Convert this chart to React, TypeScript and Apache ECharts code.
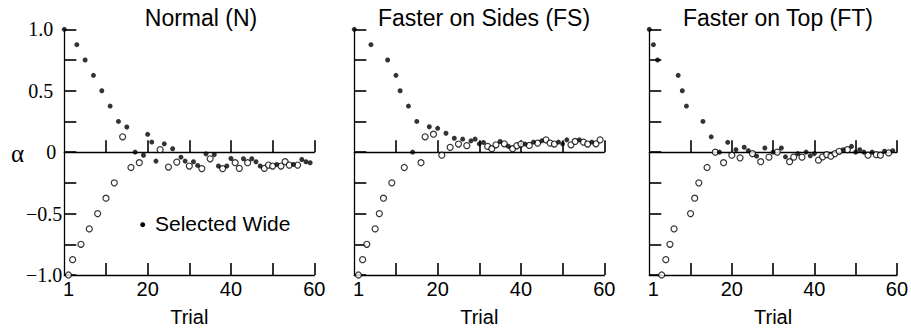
import React, { useEffect, useRef } from "react";
import * as echarts from "echarts";

// Trial index (0-based position on the axis) and alpha value
const normalWide: [number, number][] = [
  [0, 1.0], [3, 0.875], [5, 0.75], [7, 0.625], [9, 0.5], [11, 0.375], [13, 0.25], [15, 0.205],
  [17, 0.0], [19, -0.025], [20, 0.145], [21, 0.082], [22, -0.073], [24, 0.068], [26, 0.028],
  [28, -0.041], [29, -0.073], [31, -0.078], [32, -0.108], [34, -0.014], [36, -0.02], [37, -0.113],
  [39, -0.113], [40, -0.052], [43, -0.054], [45, -0.054], [46, -0.078], [47, -0.113], [51, -0.1],
  [55, -0.1], [57, -0.06], [58, -0.078], [59, -0.086],
];
const normalNarrow: [number, number][] = [
  [1, -1.0], [2, -0.875], [4, -0.75], [6, -0.625], [8, -0.5], [10, -0.375], [12, -0.25],
  [14, 0.125], [16, -0.125], [18, -0.086], [23, 0.02], [25, -0.121], [27, -0.081], [30, -0.113],
  [33, -0.134], [35, -0.054], [38, -0.134], [41, -0.086], [42, -0.132], [44, -0.086], [48, -0.132],
  [49, -0.105], [50, -0.113], [52, -0.113], [53, -0.078], [54, -0.105], [56, -0.105],
];

const sidesWide: [number, number][] = [
  [0, 1.0], [4, 0.875], [8, 0.75], [10, 0.625], [11, 0.5], [13, 0.375], [14, 0.0], [15, 0.25],
  [18, 0.207], [20, 0.194], [22, 0.154], [24, 0.113], [26, 0.106], [28, 0.092], [29, 0.106],
  [30, 0.068], [31, 0.079], [35, 0.087], [37, 0.047], [41, 0.066], [43, 0.082], [45, 0.092],
  [49, 0.082], [50, 0.068], [51, 0.1], [54, 0.1], [57, 0.082],
];
const sidesNarrow: [number, number][] = [
  [1, -1.0], [2, -0.875], [3, -0.75], [5, -0.625], [6, -0.5], [7, -0.375], [9, -0.25],
  [12, -0.125], [16, -0.086], [17, 0.125], [19, 0.146], [21, -0.025], [23, 0.039], [25, 0.066],
  [27, 0.053], [32, 0.047], [33, 0.028], [34, 0.06], [36, 0.068], [38, 0.028], [39, 0.052],
  [40, 0.066], [42, 0.055], [44, 0.074], [46, 0.1], [47, 0.074], [48, 0.066], [52, 0.06],
  [53, 0.087], [55, 0.082], [56, 0.066], [58, 0.068], [59, 0.1],
];

const topWide: [number, number][] = [
  [0, 1.0], [1, 0.875], [2, 0.75], [7, 0.625], [8, 0.5], [9, 0.375], [13, 0.25], [15, 0.125],
  [17, 0.0], [19, 0.08], [21, 0.02], [23, 0.04], [24, 0.012], [26, -0.033], [28, 0.034],
  [30, 0.0], [32, 0.034], [33, -0.038], [36, -0.012], [38, 0.0], [39, -0.03], [40, -0.012],
  [47, 0.02], [49, 0.047], [50, 0.0], [51, 0.02], [52, 0.0], [54, 0.0], [57, 0.007], [59, 0.012],
];
const topNarrow: [number, number][] = [
  [3, -1.0], [4, -0.875], [5, -0.75], [6, -0.625], [10, -0.5], [11, -0.375], [12, -0.25],
  [14, -0.125], [16, 0.0], [18, -0.086], [20, -0.025], [22, -0.046], [25, -0.012], [27, -0.078],
  [29, -0.041], [31, 0.0], [34, -0.078], [35, -0.041], [37, -0.041], [41, -0.065], [42, -0.038],
  [43, -0.02], [44, -0.033], [45, -0.012], [46, 0.007], [48, 0.02], [53, -0.025], [55, -0.02],
  [56, -0.025], [58, -0.006],
];

const panelTitles = ["Normal (N)", "Faster on Sides (FS)", "Faster on Top (FT)"];
const xTickValues = [10, 20, 30, 40, 50, 60];
const xLabelValues = [1, 20, 40, 60];
const yLabelText: Record<string, string> = {
  "1": "{p|1.0}",
  "0.5": "{p|0.5}",
  "0": "{z|0}",
  "-0.5": "{n|\u22120.5}",
  "-1": "{n|\u22121.0}",
};
const wideName = "Selected Wide";
const narrowName = "Selected Narrow";

const SANS = "Liberation Sans";
const SERIF = "Liberation Serif";

export default function App() {
  const ref = useRef<HTMLDivElement>(null);
  useEffect(() => {
    if (!ref.current) return;
    const chart = echarts.init(ref.current, null, { renderer: "svg" });
    const lefts = [64.3, 354.3, 649.3];
    const titleCenters = [201, 484, 778];
    const panels = [
      [normalWide, normalNarrow],
      [sidesWide, sidesNarrow],
      [topWide, topNarrow],
    ];
    const lineStyle = { color: "#000", width: 1.3 };
    const tickStyle = { color: "#000", width: 1.6 };
    const grids = lefts.map((l) => ({ left: l, top: 29.3, width: 250, height: 249.7 }));
    const xAxes: any[] = [];
    const yAxes: any[] = [];
    const series: any[] = [];
    lefts.forEach((_, i) => {
      xAxes.push({
        type: "value",
        gridIndex: i,
        min: 0,
        max: 60,
        position: "bottom",
        axisLine: { show: true, onZero: false, lineStyle },
        axisTick: { show: true, inside: true, length: 12, customValues: xTickValues, lineStyle: tickStyle },
        axisLabel: {
          show: true,
          customValues: xLabelValues,
          margin: 4,
          color: "#000",
          fontFamily: SANS,
          fontSize: 20,
        },
        splitLine: { show: false },
        name: "Trial",
        nameLocation: "middle",
        nameGap: 32,
        nameTextStyle: { color: "#000", fontFamily: SANS, fontSize: 20 },
      });
      xAxes.push({
        type: "value",
        gridIndex: i,
        min: 0,
        max: 60,
        position: "top",
        axisLine: { show: true, onZero: true, lineStyle },
        axisTick: { show: true, inside: false, length: 12, customValues: xTickValues, lineStyle: tickStyle },
        axisLabel: { show: false },
        splitLine: { show: false },
      });
      yAxes.push({
        type: "value",
        gridIndex: i,
        min: -1,
        max: 1,
        interval: 0.25,
        position: "left",
        axisLine: { show: true, onZero: false, lineStyle },
        axisTick: { show: true, inside: true, length: 12, lineStyle: tickStyle },
        axisLabel: {
          show: i === 0,
          align: "right",
          margin: 2,
          color: "#000",
          fontFamily: SERIF,
          fontSize: 20,
          formatter: (v: number) => {
            const key = String(Math.round(v * 100) / 100);
            return yLabelText[key] ?? "";
          },
          rich: {
            p: { fontFamily: SERIF, fontSize: 20, color: "#000", padding: [0, 9, 0, 0] },
            z: { fontFamily: SERIF, fontSize: 20, color: "#000", padding: [0, 6, 0, 0] },
            n: { fontFamily: SERIF, fontSize: 20, color: "#000" },
          },
        },
        splitLine: { show: false },
      });
      const [wide, narrow] = panels[i];
      series.push({
        type: "scatter",
        name: narrowName,
        xAxisIndex: i * 2,
        yAxisIndex: i,
        data: narrow,
        symbol: "circle",
        symbolSize: 6,
        clip: false,
        itemStyle: { color: "#fff", borderColor: "#000", borderWidth: 1.2 },
      });
      series.push({
        type: "scatter",
        name: wideName,
        xAxisIndex: i * 2,
        yAxisIndex: i,
        data: wide,
        symbol: "circle",
        symbolSize: 5,
        clip: false,
        itemStyle: { color: "#000" },
      });
    });

    const graphic: any[] = panelTitles.map((t, i) => ({
      type: "text",
      x: titleCenters[i],
      y: 17.5,
      style: {
        text: t,
        align: "center",
        verticalAlign: "middle",
        fill: "#000",
        fontFamily: SANS,
        fontSize: 23,
      },
    }));
    graphic.push({
      type: "text",
      x: 17.5,
      y: 153,
      style: { text: "\u03b1", align: "center", verticalAlign: "middle", fill: "#000", fontFamily: SERIF, fontSize: 25 },
    });
    // legend: symbol + label
    graphic.push({
      type: "circle",
      shape: { cx: 142.7, cy: 224.7, r: 2.5 },
      style: { fill: "#000" },
    });
    graphic.push({
      type: "text",
      x: 155,
      y: 223.5,
      style: { text: wideName, align: "left", verticalAlign: "middle", fill: "#000", fontFamily: SANS, fontSize: 21 },
    });

    chart.setOption({
      animation: false,
      backgroundColor: "#fff",
      grid: grids,
      xAxis: xAxes,
      yAxis: yAxes,
      series,
      graphic,
    });
    return () => chart.dispose();
  }, []);
  return (
    <div
      ref={ref}
      style={{ position: "absolute", left: 0, top: 0, width: 911, height: 332 }}
    />
  );
}
